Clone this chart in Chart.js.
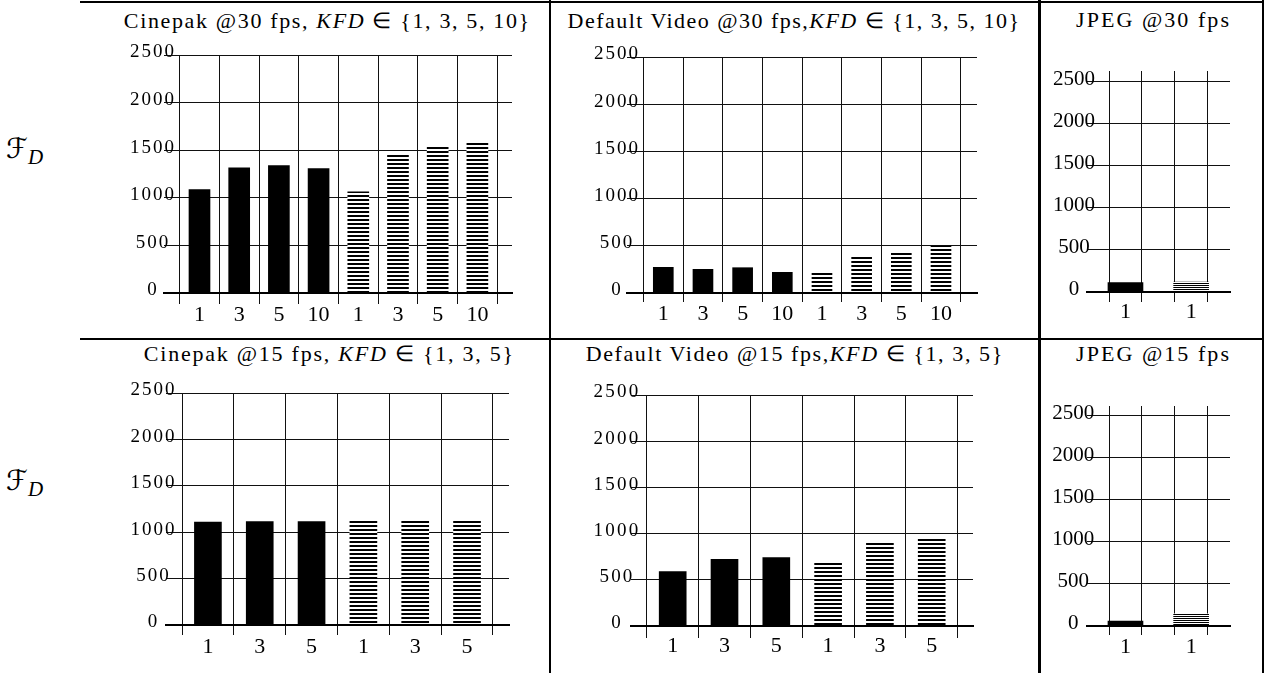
<!DOCTYPE html>
<html><head><meta charset="utf-8">
<script src="https://cdn.jsdelivr.net/npm/chart.js@4.4.1/dist/chart.umd.min.js"></script>
<style>
html,body{margin:0;padding:0;background:#fff;}
#page{position:relative;width:1269px;height:673px;overflow:hidden;background:#fff;font-family:"Liberation Serif","Times New Roman",serif;color:#000;}
.ln{position:absolute;background:#000;}
.title{position:absolute;white-space:nowrap;font-size:22px;line-height:22px;}
.fd{position:absolute;white-space:nowrap;line-height:30px;}
.fd .F{font-family:"DejaVu Serif","DejaVu Sans",serif;font-size:28px;font-style:italic;}
.fd .D{font-family:"Liberation Serif",serif;font-style:italic;font-size:21px;position:relative;top:6px;}
canvas{position:absolute;}
</style></head><body><div id="page">
<div class="ln" style="left:80px;top:1px;width:1184px;height:2px"></div>
<div class="ln" style="left:80px;top:338px;width:1184px;height:2px"></div>
<div class="ln" style="left:549px;top:0;width:2px;height:673px"></div>
<div class="ln" style="left:1038px;top:0;width:3px;height:673px"></div>
<div class="ln" style="left:1262px;top:0;width:2px;height:673px"></div>
<div class="fd" style="left:6px;top:134px"><span class="F">ℱ</span><span class="D">D</span></div>
<div class="fd" style="left:6px;top:466px"><span class="F">ℱ</span><span class="D">D</span></div>
</div>
<script>
// ---------- data ----------
const kfd30 = ['1', '3', '5', '10'];
const kfd15 = ['1', '3', '5'];
const jpegKfd = ['1'];
const yTicks = [0, 500, 1000, 1500, 2000, 2500];

const cinepak30Solid   = [1087, 1315, 1339, 1308];
const cinepak30Striped = [1062, 1448, 1543, 1592];
const video30Solid     = [272, 251, 268, 219];
const video30Striped   = [219, 388, 441, 498];
const jpeg30Solid      = [111];
const jpeg30Striped    = [119];
const cinepak15Solid   = [1108, 1115, 1115];
const cinepak15Striped = [1119, 1119, 1119];
const video15Solid     = [588, 721, 740];
const video15Striped   = [689, 895, 945];
const jpeg15Solid      = [59];
const jpeg15Striped    = [146];

const titles = [
  'Cinepak @30 fps, <i>KFD</i> ∈ {1, 3, 5, 10}',
  'Default Video @30 fps,<i>KFD</i> ∈ {1, 3, 5, 10}',
  'JPEG @30 fps',
  'Cinepak @15 fps, <i>KFD</i> ∈ {1, 3, 5}',
  'Default Video @15 fps,<i>KFD</i> ∈ {1, 3, 5}',
  'JPEG @15 fps'
];

// ---------- layout / style ----------
const SERIF = '"Liberation Serif", "Times New Roman", serif';
const Y_W = 80, PAD_T = 16, PAD_R = 6, X_H = 42;
const catTicks = n => Array.from({length: n}, (_, i) => i);
const jpegTicks = [-0.5, 0, 0.5, 1, 1.5];

const panels = [
  {solid: cinepak30Solid, striped: cinepak30Striped, labels: kfd30.concat(kfd30), xTicks: catTicks(8),
   l:164, r:512, t:55, b:293, xmin:-0.894, xmax:7.872, ymax:2500, bar:21, tl:11, xPad:-1.7, yCenter:153, yFont:19, ySp:2, period:4,
   title: 0, tcx: 326.5, tbase: 28, tw: 407},
  {solid: video30Solid, striped: video30Striped, labels: kfd30.concat(kfd30), xTicks: catTicks(8),
   l:627, r:977, t:57, b:293, xmin:-0.915, xmax:7.908, ymax:2500, bar:20, tl:9, xPad:-1.2, yCenter:617, yFont:19, ySp:2, period:4,
   title: 1, tcx: 793.3, tbase: 28, tw: 453},
  {solid: jpeg30Solid, striped: jpeg30Striped, labels: jpegKfd.concat(jpegKfd), xTicks: jpegTicks,
   l:1087, r:1230, t:71, b:292, xmin:-0.586, xmax:1.592, ymax:2627, bar:35, tl:10, xPad:-2.7, yCenter:1074, yFont:21, ySp:0, period:2,
   title: 2, tcx: 1152.5, tbase: 27, tw: 155},
  {solid: cinepak15Solid, striped: cinepak15Striped, labels: kfd15.concat(kfd15), xTicks: catTicks(6),
   l:166, r:509, t:393, b:625, xmin:-0.809, xmax:5.81, ymax:2500, bar:27, tl:10, xPad:-1.2, yCenter:153.6, yFont:19, ySp:2, period:4,
   title: 3, tcx: 328.5, tbase: 361, tw: 371},
  {solid: video15Solid, striped: video15Striped, labels: kfd15.concat(kfd15), xTicks: catTicks(6),
   l:631, r:973, t:395, b:626, xmin:-0.805, xmax:5.797, ymax:2500, bar:27, tl:12, xPad:-5.4, yCenter:617, yFont:19, ySp:2.2, period:4,
   title: 4, tcx: 794, tbase: 361, tw: 418},
  {solid: jpeg15Solid, striped: jpeg15Striped, labels: jpegKfd.concat(jpegKfd), xTicks: jpegTicks,
   l:1087, r:1230, t:406, b:626, xmin:-0.586, xmax:1.592, ymax:2619, bar:35, tl:9, xPad:-0.7, yCenter:1073.3, yFont:21, ySp:0, period:2,
   title: 5, tcx: 1152.5, tbase: 361, tw: 155}
];

const page = document.getElementById('page');
const mctx = document.createElement('canvas').getContext('2d');
function textW(t, size) { mctx.font = size + 'px ' + SERIF; return mctx.measureText(t).width; }

function stripes(period) {
  const c = document.createElement('canvas');
  c.width = 8; c.height = period;
  const g = c.getContext('2d');
  g.fillStyle = '#fff'; g.fillRect(0, 0, 8, period);
  g.fillStyle = '#000'; g.fillRect(0, 0, 8, period / 2);
  return g.createPattern(c, 'repeat');
}

const ySpacing = {
  id: 'ySpacing',
  beforeDraw(chart) { chart.ctx.letterSpacing = '0px'; },
  afterDatasetsDraw(chart, args, opts) { chart.ctx.letterSpacing = (opts.px || 0) + 'px'; },
  afterDraw(chart) { chart.ctx.letterSpacing = '0px'; }
};
Chart.register(ySpacing);

// titles
panels.forEach(p => {
  const d = document.createElement('div');
  d.className = 'title';
  d.innerHTML = titles[p.title];
  page.appendChild(d);
  const natural = d.getBoundingClientRect().width;
  const n = d.textContent.length;
  const ls = (p.tw - natural) / n;
  d.style.letterSpacing = ls + 'px';
  const w = d.getBoundingClientRect().width - ls;
  d.style.left = (p.tcx - w / 2) + 'px';
  d.style.top = (p.tbase - 18.4) + 'px';
});

// charts
panels.forEach(p => {
  const W = Y_W + (p.r - p.l) + PAD_R;
  const H = PAD_T + (p.b - p.t) + X_H;
  const cv = document.createElement('canvas');
  cv.width = W; cv.height = H;
  cv.style.left = (p.l - Y_W) + 'px';
  cv.style.top = (p.t - PAD_T) + 'px';
  cv.style.width = W + 'px'; cv.style.height = H + 'px';
  page.appendChild(cv);

  const widest = Math.max(...yTicks.map(v => textW(String(v), p.yFont)));
  const yPad = (p.l - p.yCenter) - widest / 2;
  const labels = p.labels;

  new Chart(cv, {
    type: 'bar',
    data: {
      datasets: [
        {data: p.solid.map((v, i) => ({x: i, y: v})), backgroundColor: '#000', borderWidth: 0,
         grouped: false, barThickness: p.bar},
        {data: p.striped.map((v, i) => ({x: i + p.solid.length, y: v})), backgroundColor: stripes(p.period), borderWidth: 0,
         grouped: false, barThickness: p.bar}
      ]
    },
    options: {
      responsive: false, animation: false, events: [],
      layout: {padding: {top: PAD_T, right: PAD_R, left: 0, bottom: 0}, autoPadding: false},
      plugins: {legend: {display: false}, tooltip: {enabled: false}, title: {display: false}, ySpacing: {px: p.ySp}},
      scales: {
        x: {
          type: 'linear', min: p.xmin, max: p.xmax, offset: false,
          afterBuildTicks: s => { s.ticks = p.xTicks.map(v => ({value: v})); },
          afterFit: s => { s.height = X_H; },
          grid: {display: true, color: '#111', lineWidth: 1, drawOnChartArea: true, drawTicks: true,
                 tickLength: p.tl, tickColor: '#111', tickWidth: 1},
          border: {display: true, color: '#000', width: 2, z: 1},
          ticks: {autoSkip: false, maxRotation: 0, minRotation: 0, padding: p.xPad, color: '#000',
                  font: {family: SERIF, size: 22},
                  callback: v => Number.isInteger(v) ? labels[v] : ''}
        },
        y: {
          type: 'linear', min: 0, max: p.ymax,
          afterBuildTicks: s => { s.ticks = yTicks.map(v => ({value: v})); },
          afterFit: s => { s.width = Y_W; s._computeLabelArea = () => undefined; },
          grid: {color: '#111', lineWidth: 1, drawTicks: false},
          border: {display: false},
          ticks: {autoSkip: false, crossAlign: 'center', padding: yPad, labelOffset: -2.5, color: '#000',
                  font: {family: SERIF, size: p.yFont}, z: 1,
                  callback: v => String(v)}
        }
      }
    }
  });
});
</script>
</body></html>
